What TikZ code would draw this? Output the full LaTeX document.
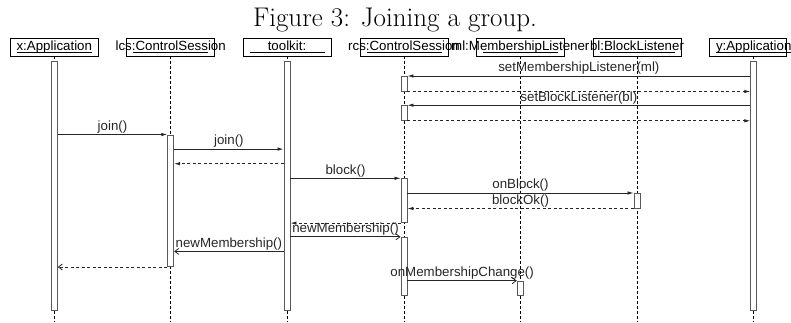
\documentclass[tikz,border=0pt]{standalone}
\usepackage{fontspec}
\setsansfont{Liberation Sans}
\usetikzlibrary{arrows.meta}
\begin{document}
\begin{tikzpicture}[x=1pt,y=-1pt,
  objbox/.style={draw=black, line width=0.7pt, minimum width=88pt, minimum height=18pt, inner sep=0pt},
  objtxt/.style={font=\sffamily\fontsize{13.3}{14}\selectfont, inner sep=0pt, anchor=base},
  uline/.style={line width=0.7pt, black},
  life/.style={line width=0.7pt, black, dash pattern=on 2.5pt off 2.5pt},
  bar/.style={draw=black!65, fill=white, line width=0.9pt, minimum width=6pt, inner sep=0pt, anchor=north},
  call/.style={line width=0.8pt, black!85, -{Latex[length=6pt,width=3.5pt]}},
  ret/.style={line width=0.8pt, black!85, dash pattern=on 3pt off 2.5pt, -{Latex[length=6pt,width=3.5pt]}},
  async/.style={line width=0.8pt, black!85, -{Straight Barb[length=4pt,width=6pt]}},
  asyncret/.style={line width=0.8pt, black!85, dash pattern=on 3pt off 2.5pt, -{Straight Barb[length=4pt,width=6pt]}},
  lbl/.style={font=\sffamily\fontsize{13.3}{14}\selectfont, midway, above, inner sep=1pt}
]
\useasboundingbox (0,0) rectangle (791,322);

% title
\node[font=\fontsize{27}{30}\selectfont, anchor=base, inner sep=0pt] (title) at (395,26.5) {Figure 3: Joining a group.};

% bottom and message levels
\coordinate (bot) at (0,322);
\coordinate (m5) at (0,149.1);
\coordinate (m6) at (0,163.7);
\coordinate (m12) at (0,251.4);

% header boxes
\node[objbox] (hx) at (54.3,47) {};
\node[objbox] (hl) at (170.7,47) {};
\node[objbox] (ht) at (287,47) {};
\node[objbox] (hr) at (404,47) {};
\node[objbox] (hm) at (520.3,47) {};
\node[objbox] (hb) at (637,47) {};
\node[objbox, minimum width=77pt] (hy) at (748.3,47) {};
\coordinate (ly) at (753.7,56);

% lifelines
\draw[life] (hx.south) -- (hx.south |- bot);
\draw[life] (hl.south) -- (hl.south |- bot);
\draw[life] (ht.south) -- (ht.south |- bot);
\draw[life] (hr.south) -- (hr.south |- bot);
\draw[life] (hm.south) -- (hm.south |- bot);
\draw[life] (hb.south) -- (hb.south |- bot);
\draw[life] (ly) -- (ly |- bot);

% header texts
\node[objtxt] (tx) at (54.3,50.5) {x:Application};
\node[objtxt] (tl) at (170.7,50.5) {lcs:ControlSession};
\node[objtxt] (tt) at (287,50.5) {toolkit:};
\node[objtxt] (tr) at (404,50.5) {rcs:ControlSession};
\node[objtxt] (tm) at (520.3,50.5) {ml:MembershipListener};
\node[objtxt] (tb) at (637,50.5) {bl:BlockListener};
\node[objtxt] (ty) at (753.7,50.5) {y:Application};
\foreach \t in {tx,tl,tt,tr,tm,tb,ty}{
  \draw[uline] ([xshift=-37.5pt,yshift=-1.6pt]\t.base) -- ([xshift=37.5pt,yshift=-1.6pt]\t.base);
}

% activation bars
\node[bar, minimum height=248.9pt] (bx) at (54.3,61) {};
\node[bar, minimum height=248.9pt] (bt) at (287,61) {};
\node[bar, minimum height=248.9pt] (by) at (753.7,61) {};
\node[bar, minimum height=131.6pt] (blcs) at (170.7,134.5) {};
\node[bar, minimum height=14.6pt] (br1) at (404,76) {};
\node[bar, minimum height=14.7pt] (br2) at (404,105.2) {};
\node[bar, minimum height=43.9pt] (br3) at (404,178.3) {};
\node[bar, minimum height=14.6pt] (bbl) at (637,193) {};
\node[bar, minimum height=58.5pt] (br4) at (404,236.8) {};
\node[bar, minimum height=14.6pt] (bml) at (520.3,280.7) {};

% messages
\draw[call] (by.west |- br1.north) -- (br1.north east) node[lbl] {setMembershipListener(ml)};
\draw[ret] (br1.south east) -- (by.west |- br1.south);
\draw[call] (by.west |- br2.north) -- (br2.north east) node[lbl] {setBlockListener(bl)};
\draw[ret] (br2.south east) -- (by.west |- br2.south);
\draw[call] (bx.east |- blcs.north) -- (blcs.north west) node[lbl] {join()};
\draw[call] (blcs.east |- m5) -- (bt.west |- m5) node[lbl] {join()};
\draw[ret] (bt.west |- m6) -- (blcs.east |- m6);
\draw[call] (bt.east |- br3.north) -- (br3.north west) node[lbl] {block()};
\draw[call] (br3.east |- bbl.north) -- (bbl.north west) node[lbl] {onBlock()};
\draw[ret] (bbl.south west) -- (br3.east |- bbl.south) node[lbl] {blockOk()};
\draw[ret] (br3.south west) -- (bt.east |- br3.south);
\draw[async] (bt.east |- br4.north) -- (br4.north west) node[lbl] {newMembership()};
\draw[async] (bt.west |- m12) -- (blcs.east |- m12) node[lbl] {newMembership()};
\draw[asyncret] (blcs.south west) -- (bx.east |- blcs.south);
\draw[async] (br4.east |- bml.north) -- (bml.north west) node[lbl] {onMembershipChange()};
\end{tikzpicture}
\end{document}
